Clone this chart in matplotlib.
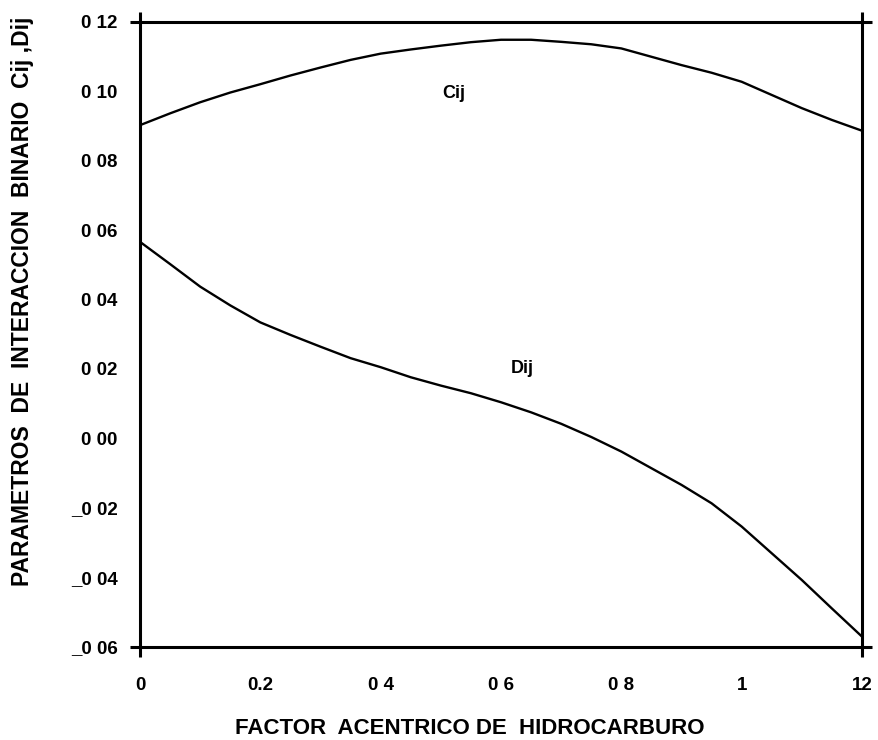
import matplotlib
matplotlib.use("Agg")
import matplotlib.pyplot as plt

# ---- data ----
x_vals = [0.00, 0.05, 0.10, 0.15, 0.20, 0.25, 0.30, 0.35, 0.40, 0.45, 0.50, 0.55,
          0.60, 0.65, 0.70, 0.75, 0.80, 0.85, 0.90, 0.95, 1.00, 1.05, 1.10, 1.15, 1.20]
cij = [0.0902, 0.0936, 0.0968, 0.0996, 0.1020, 0.1045, 0.1068, 0.1090, 0.1108,
       0.1120, 0.1131, 0.1141, 0.1148, 0.1148, 0.1142, 0.1135, 0.1123, 0.1099,
       0.1075, 0.1053, 0.1027, 0.0989, 0.0951, 0.0917, 0.0886]
dij = [0.0566, 0.0502, 0.0437, 0.0383, 0.0334, 0.0298, 0.0264, 0.0231, 0.0205,
       0.0176, 0.0152, 0.0130, 0.0104, 0.0075, 0.0042, 0.0004, -0.0038, -0.0086,
       -0.0134, -0.0187, -0.0254, -0.0331, -0.0408, -0.0490, -0.0571]

x_ticks = [0.0, 0.2, 0.4, 0.6, 0.8, 1.0, 1.2]
x_ticklabels = ["0", "0.2", "0 4", "0 6", "0 8", "1", "12"]
y_ticks = [0.12, 0.10, 0.08, 0.06, 0.04, 0.02, 0.00, -0.02, -0.04, -0.06]
y_ticklabels = ["0 12", "0 10", "0 08", "0 06", "0 04", "0 02", "0 00",
                "_0 02", "_0 04", "_0 06"]

xlabel = "FACTOR  ACENTRICO DE  HIDROCARBURO"
ylabel = "PARAMETROS  DE  INTERACCION  BINARIO  Cij ,Dij"

plt.rcParams['font.family'] = ['Liberation Sans', 'DejaVu Sans']

fig = plt.figure(figsize=(8.79, 7.40), dpi=100)
ax = fig.add_axes([140 / 879, 1 - 646.7 / 740, (862 - 140) / 879, (646.7 - 21.7) / 740])

ax.plot(x_vals, cij, color='black', lw=1.7, solid_capstyle='butt')
ax.plot(x_vals, dij, color='black', lw=1.7, solid_capstyle='butt')

ax.set_xlim(0, 1.2)
ax.set_ylim(-0.06, 0.12)

for s in ax.spines.values():
    s.set_linewidth(2.2)

ax.set_xticks(x_ticks)
ax.set_xticklabels(x_ticklabels)
ax.set_yticks(y_ticks)
ax.set_yticklabels(y_ticklabels)
ax.tick_params(axis='both', which='major', length=0, labelsize=13.5)
ax.tick_params(axis='y', which='major', pad=16)
ax.tick_params(axis='x', which='major', pad=22)
for lab in ax.get_xticklabels() + ax.get_yticklabels():
    lab.set_fontweight('bold')

# corner extensions (minor ticks at the frame corners)
ax.xaxis.remove_overlapping_locs = False
ax.yaxis.remove_overlapping_locs = False
ax.set_xticks([0.0, 1.2], minor=True)
ax.set_yticks([-0.06, 0.12], minor=True)
ax.tick_params(axis='both', which='minor', direction='out', width=2.2, length=7,
               top=True, right=True, left=True, bottom=True)

ax.text(0.522, 0.0992, "Cij", fontsize=13, fontweight='bold', ha='center', va='center')
ax.text(0.635, 0.0200, "Dij", fontsize=13, fontweight='bold', ha='center', va='center')

fig.text(470 / 879, 1 - 728 / 740, xlabel, fontsize=16, fontweight='bold',
         ha='center', va='center')
fig.text(23 / 879, 1 - 301 / 740, ylabel, fontsize=16.5, fontweight='bold',
         ha='center', va='center', rotation=90)

fig.savefig("out.png", dpi=100)
